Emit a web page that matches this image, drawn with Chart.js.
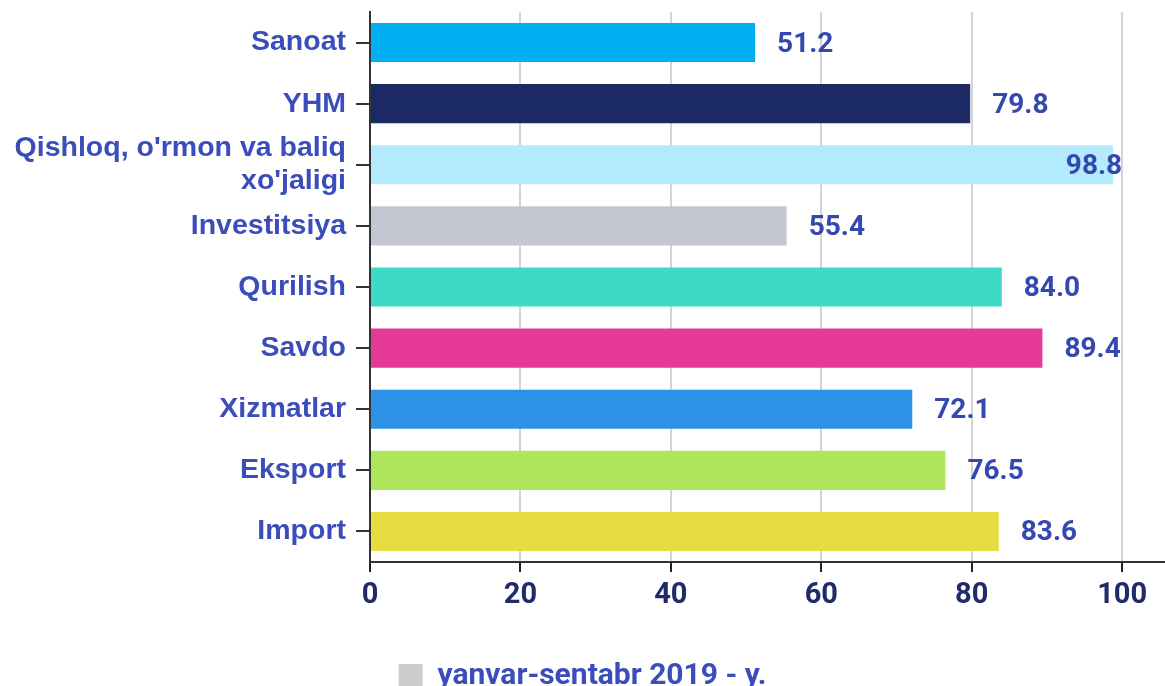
<!DOCTYPE html>
<html>
<head>
<meta charset="utf-8">
<script src="https://cdn.jsdelivr.net/npm/chart.js@4"></script>
<style>
  html, body { margin: 0; padding: 0; background: #fff; }
  #wrap { width: 1165px; height: 686px; }
</style>
</head>
<body>
<div id="wrap"><canvas id="chart"></canvas></div>
<script>
// Data
const categories = [
    'Sanoat',
    'YHM',
    ["Qishloq, o'rmon va baliq", "xo'jaligi"],
    'Investitsiya',
    'Qurilish',
    'Savdo',
    'Xizmatlar',
    'Eksport',
    'Import'
];
const values = [51.2, 79.8, 98.8, 55.4, 84.0, 89.4, 72.1, 76.5, 83.6];
const barColors = ['#00b0f0', '#1c2a63', '#b3eafc', '#c3c7d1', '#3ddbc6', '#e5399a', '#2e91e8', '#aee55a', '#e8dd40'];
const xTicks = [0, 20, 40, 60, 80, 100];
const seriesName = 'yanvar-sentabr 2019 - y.';

const narrow = "Roboto, 'Liberation Sans', sans-serif";
const labelBlue = '#3a4dbb';

// Simple value labels at the bar ends
const valueLabels = {
    id: 'valueLabels',
    afterDatasetsDraw(chart) {
        const ctx = chart.ctx;
        const xScale = chart.scales.x;
        const limit = xScale.getPixelForValue(100);
        chart.getDatasetMeta(0).data.forEach((bar, i) => {
            const text = values[i].toFixed(1);
            ctx.save();
            ctx.font = 'bold 28px ' + narrow;
            ctx.fillStyle = '#3448b0';
            ctx.textBaseline = 'middle';
            const w = ctx.measureText(text).width;
            let x = bar.x + 22;
            if (x + w > limit + 2) {
                x = limit - w;
            }
            ctx.fillText(text, x, bar.y + 2);
            ctx.restore();
        });
    }
};

const ctx = document.getElementById('chart').getContext('2d');
new Chart(ctx, {
    type: 'bar',
    data: {
        labels: categories,
        datasets: [{
            label: seriesName,
            data: values,
            backgroundColor: barColors,
            borderWidth: 0,
            barPercentage: 0.64,
            categoryPercentage: 1
        }]
    },
    options: {
        indexAxis: 'y',
        responsive: true,
        maintainAspectRatio: false,
        animation: false,
        layout: { padding: { top: 12, right: 0, bottom: -15, left: 0 } },
        scales: {
            x: {
                min: 0,
                max: 105.7,
                afterBuildTicks: scale => {
                    scale.ticks = xTicks.map(v => ({ value: v }));
                },
                afterFit: scale => { scale.height = 99; },
                grid: {
                    color: '#d4d4d4',
                    lineWidth: 2,
                    tickColor: '#222',
                    tickLength: 10
                },
                border: { color: '#333', width: 2 },
                ticks: {
                    color: '#1f2b6b',
                    padding: 6,
                    font: { family: narrow, size: 29, weight: 'bold' }
                }
            },
            y: {
                afterFit: scale => {
                    scale.width = 370;
                    scale.paddingTop = 0;
                    scale.paddingBottom = 0;
                },
                grid: {
                    offset: false,
                    drawOnChartArea: false,
                    tickColor: '#333',
                    tickLength: 14,
                    lineWidth: 2
                },
                border: { color: '#333', width: 2 },
                ticks: {
                    autoSkip: false,
                    color: labelBlue,
                    padding: 10,
                    font: { family: "'Liberation Sans', Arial, sans-serif", size: 28.5, weight: 'bold', lineHeight: 1.15 }
                }
            }
        },
        plugins: {
            tooltip: { enabled: false },
            legend: {
                position: 'bottom',
                labels: {
                    color: labelBlue,
                    boxWidth: 24,
                    boxHeight: 24,
                    padding: 0,
                    font: { family: narrow, size: 30, weight: 'bold' },
                    generateLabels: () => [{
                        text: seriesName,
                        fillStyle: '#cccccc',
                        strokeStyle: '#cccccc',
                        lineWidth: 0,
                        fontColor: labelBlue,
                        datasetIndex: 0
                    }]
                }
            }
        }
    },
    plugins: [valueLabels]
});
</script>
</body>
</html>
